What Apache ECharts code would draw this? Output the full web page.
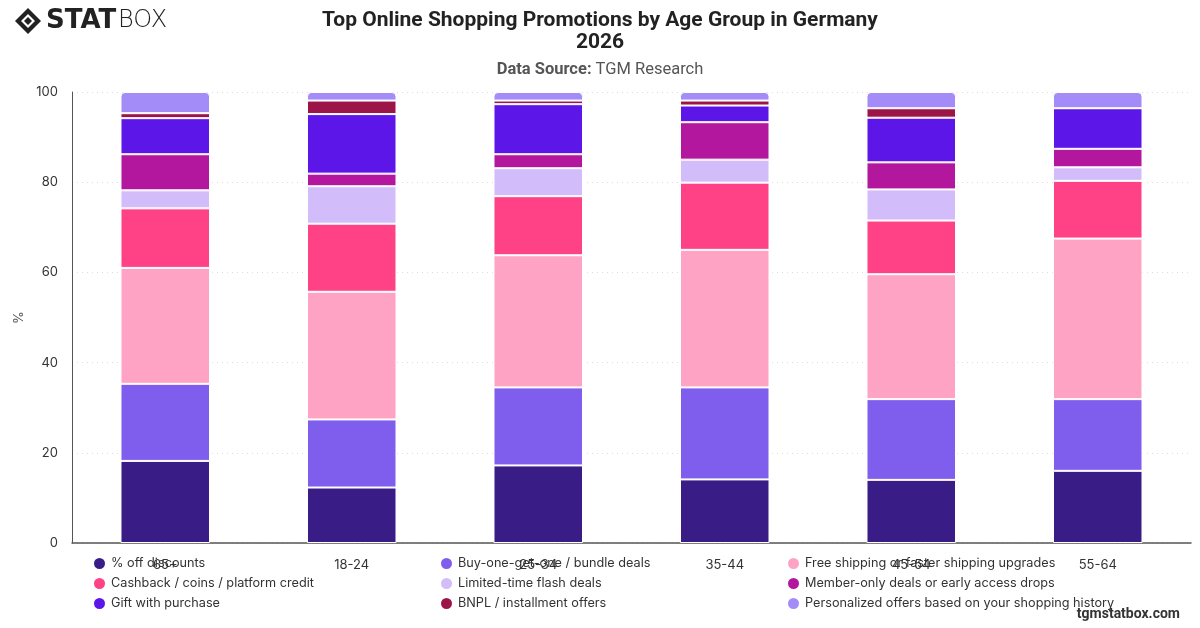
<!DOCTYPE html>
<html>
<head>
<meta charset="utf-8">
<script src="https://cdn.jsdelivr.net/npm/echarts@6/dist/echarts.min.js"></script>
<style>
html, body { margin: 0; padding: 0; background: #fff; }
#chart { width: 1200px; height: 628px; }
</style>
</head>
<body>
<div id="chart"></div>
<script>
const ageGroups = ['65+', '18-24', '25-34', '35-44', '45-54', '55-64'];
const yTicks = [0, 20, 40, 60, 80, 100];

const seriesNames = [
	'% off discounts',
	'Buy-one-get-one / bundle deals',
	'Free shipping or faster shipping upgrades',
	'Cashback / coins / platform credit',
	'Limited-time flash deals',
	'Member-only deals or early access drops',
	'Gift with purchase',
	'BNPL / installment offers',
	'Personalized offers based on your shopping history'
];

const percentOff = [18.2, 12.3, 17.2, 14.1, 14.0, 16.0];
const bundleDeals = [17.1, 15.1, 17.3, 20.4, 17.9, 15.9];
const freeShipping = [25.7, 28.3, 29.3, 30.5, 27.7, 35.6];
const cashback = [13.2, 15.1, 13.1, 14.9, 11.9, 12.8];
const flashDeals = [4.0, 8.3, 6.2, 5.1, 6.9, 3.0];
const memberDeals = [8.0, 2.8, 3.1, 8.3, 6.0, 4.1];
const giftWithPurchase = [8.0, 13.2, 11.1, 3.7, 9.9, 9.0];
const bnpl = [1.1, 3.0, 0.8, 1.1, 2.1, 0];
const personalized = [4.7, 1.9, 1.9, 1.9, 3.6, 3.6];

const seriesValues = [percentOff, bundleDeals, freeShipping, cashback, flashDeals,
	memberDeals, giftWithPurchase, bnpl, personalized];

const colors = ['#3a1c86', '#7f5eed', '#ffa3c4', '#ff4186', '#d3bcfa',
	'#b2179e', '#5c17e8', '#9c1548', '#a48cf8'];

const FONT = 'Inter, "Noto Sans", sans-serif';

let chart = echarts.init(document.getElementById('chart'));

// legend is 3 columns, each its own vertical legend
let legendColumns = [0, 1, 2].map(col => ({
	orient: 'vertical',
	left: 87 + col * 347,
	top: 551,
	itemWidth: 13,
	itemHeight: 13,
	itemGap: 5,
	icon: 'circle',
	textStyle: { fontFamily: FONT, fontSize: 12.7, color: '#333' },
	data: seriesNames.filter((_, i) => i % 3 == col)
}));

let series = seriesNames.map((name, i) => ({
	name,
	type: 'bar',
	stack: 'total',
	barWidth: '48%',
	data: seriesValues[i],
	itemStyle: {
		color: colors[i],
		borderColor: '#fff',
		borderWidth: 1,
		borderRadius: i == seriesNames.length - 1 ? [4, 4, 0, 0] : 0
	},
	emphasis: { disabled: true }
}));

chart.setOption({
	animation: false,
	color: colors,
	title: {
		text: 'Top Online Shopping Promotions by Age Group in Germany\n2026',
		left: 'center',
		top: 5,
		itemGap: 7,
		textStyle: { fontFamily: 'Roboto, sans-serif', fontSize: 21, fontWeight: 'bold', color: '#222', lineHeight: 22 },
		subtext: '{b|Data Source:} TGM Research',
		subtextStyle: {
			fontFamily: 'Roboto, sans-serif', fontSize: 16.5, color: '#555',
			rich: { b: { fontFamily: 'Roboto, sans-serif', fontSize: 16.5, fontWeight: 'bold', color: '#555' } }
		}
	},
	legend: legendColumns,
	grid: { left: 72, right: 9, top: 92, bottom: 85 },
	xAxis: {
		type: 'category',
		data: ageGroups,
		axisTick: { show: false },
		axisLine: { lineStyle: { color: '#555', width: 1.5 } },
		axisLabel: { fontFamily: FONT, fontSize: 13, color: '#333', margin: 16 }
	},
	yAxis: {
		type: 'value',
		min: yTicks[0],
		max: yTicks[yTicks.length - 1],
		interval: 20,
		name: '%',
		nameLocation: 'middle',
		nameGap: 43,
		nameTextStyle: { fontFamily: FONT, fontSize: 13, color: '#555' },
		axisLine: { show: true, lineStyle: { color: '#555', width: 1 } },
		axisTick: { show: false },
		axisLabel: { fontFamily: FONT, fontSize: 13, color: '#333', margin: 14 },
		splitLine: { lineStyle: { color: '#ddd', type: [1, 4] } }
	},
	series,
	graphic: [
		{
			type: 'group', left: 15, top: 8,
			children: [
				{ type: 'polygon', shape: { points: [[13, 0], [26, 13], [13, 26], [0, 13]] }, style: { fill: '#222' } },
				{ type: 'polygon', shape: { points: [[13, 6], [20, 13], [13, 20], [6, 13]] }, style: { fill: '#fff' } },
				{ type: 'polygon', shape: { points: [[13, 9], [17, 13], [13, 17], [9, 13]] }, style: { fill: '#222' } },
				{ type: 'text', x: 31, y: 0, style: { text: 'STAT', fontFamily: '"DejaVu Sans", sans-serif', fontSize: 26, fontWeight: 900, fill: '#222' } },
				{ type: 'text', x: 103, y: 1, style: { text: 'BOX', fontFamily: '"DejaVu Sans", sans-serif', fontSize: 24, fontWeight: 200, fill: '#222' } }
			]
		},
		{
			type: 'text', right: 20, top: 607,
			style: { text: 'tgmstatbox.com', fontFamily: 'Roboto, sans-serif', fontSize: 14, fontWeight: 'bold', fill: '#333' }
		}
	]
});
</script>
</body>
</html>
